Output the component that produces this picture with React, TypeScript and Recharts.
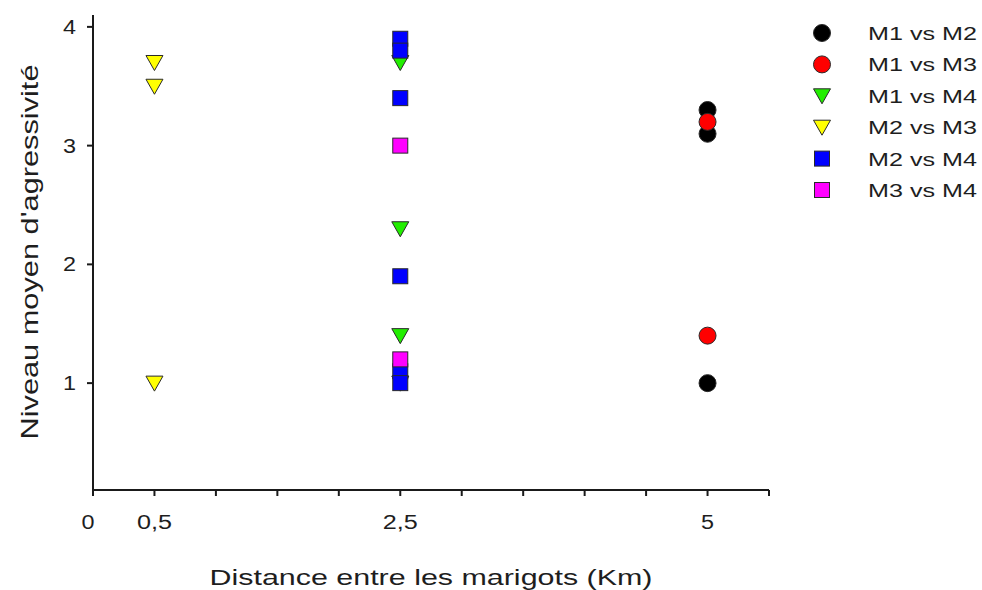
import React from "react";
import { ScatterChart, Scatter, XAxis, YAxis } from "recharts";

// distance (km) / niveau moyen d'agressivité
const m1m2 = [
    { x: 5, y: 3.3 },
    { x: 5, y: 3.1 },
    { x: 5, y: 1.0 },
];
const m1m3 = [
    { x: 5, y: 3.2 },
    { x: 5, y: 1.4 },
];
const m1m4 = [
    { x: 2.5, y: 3.7 },
    { x: 2.5, y: 2.3 },
    { x: 2.5, y: 1.4 },
    { x: 2.5, y: 1.0 },
];
const m2m3 = [
    { x: 0.5, y: 3.7 },
    { x: 0.5, y: 3.5 },
    { x: 0.5, y: 1.0 },
];
const m2m4 = [
    { x: 2.5, y: 3.9 },
    { x: 2.5, y: 3.8 },
    { x: 2.5, y: 3.4 },
    { x: 2.5, y: 1.9 },
    { x: 2.5, y: 1.1 },
    { x: 2.5, y: 1.0 },
];
const m3m4 = [
    { x: 2.5, y: 3.0 },
    { x: 2.5, y: 1.2 },
];

const xTicks = [0, 0.5, 1, 1.5, 2, 2.5, 3, 3.5, 4, 4.5, 5, 5.5];
const xLabelled = [0, 0.5, 2.5, 5];
const yTicks = [1, 2, 3, 4];

const FONT = "'Liberation Sans', Arial, sans-serif";
const EDGE = "#2a2a2a";
const INK = "#1e1e1e";

type Kind = "circle" | "down" | "square";

const Marker = ({ kind, cx, cy, fill }: { kind: Kind; cx: number; cy: number; fill: string }) => {
    if (kind === "circle") {
        return <circle cx={cx} cy={cy} r={8.5} fill={fill} stroke={EDGE} strokeWidth={1} />;
    }
    if (kind === "square") {
        return <rect x={cx - 7.5} y={cy - 7.5} width={15} height={15} fill={fill} stroke={EDGE} strokeWidth={1} />;
    }
    return (
        <polygon
            points={`${cx - 8.5},${cy - 7} ${cx + 8.5},${cy - 7} ${cx},${cy + 8}`}
            fill={fill}
            stroke={EDGE}
            strokeWidth={1}
            strokeLinejoin="round"
        />
    );
};

const series: { name: string; data: { x: number; y: number }[]; kind: Kind; color: string }[] = [
    { name: "M1 vs M2", data: m1m2, kind: "circle", color: "#000000" },
    { name: "M1 vs M3", data: m1m3, kind: "circle", color: "#ff0000" },
    { name: "M1 vs M4", data: m1m4, kind: "down", color: "#22ee00" },
    { name: "M2 vs M3", data: m2m3, kind: "down", color: "#ffff00" },
    { name: "M2 vs M4", data: m2m4, kind: "square", color: "#0000ff" },
    { name: "M3 vs M4", data: m3m4, kind: "square", color: "#ff00ff" },
];

// the reference text is drawn wide, so labels are stretched with textLength
const XTick = (props: any) => {
    const { x, y, payload } = props;
    const v = payload.value as number;
    if (!xLabelled.includes(v)) return null;
    const label = String(v).replace(".", ",");
    const w = label.length === 1 ? 13 : 35;
    return (
        <text
            x={x + (v === 0 ? -5 : 0)}
            y={y + 31}
            textAnchor="middle"
            fontSize={20}
            fill={INK}
            fontFamily={FONT}
            textLength={w}
            lengthAdjust="spacingAndGlyphs"
        >
            {label}
        </text>
    );
};

const YTick = (props: any) => {
    const { x, y, payload } = props;
    return (
        <text
            x={x - 9}
            y={y + 7}
            textAnchor="end"
            fontSize={20}
            fill={INK}
            fontFamily={FONT}
            textLength={13}
            lengthAdjust="spacingAndGlyphs"
        >
            {payload.value}
        </text>
    );
};

const App: React.FC = () => {
    return (
        <div style={{ position: "absolute", left: 0, top: 0, width: 982, height: 590, background: "#fff", fontFamily: FONT }}>
            <ScatterChart width={982} height={590} margin={{ top: 15, right: 213, bottom: 0, left: 0 }}>
                <XAxis
                    type="number"
                    dataKey="x"
                    domain={[0, 5.5]}
                    ticks={xTicks}
                    interval={0}
                    allowDataOverflow
                    height={100}
                    stroke="#1a1a1a"
                    strokeWidth={2}
                    tickSize={6}
                    tick={<XTick />}
                />
                <YAxis
                    type="number"
                    dataKey="y"
                    domain={[0.1, 4.1]}
                    ticks={yTicks}
                    allowDataOverflow
                    width={93}
                    stroke="#1a1a1a"
                    strokeWidth={2}
                    tickSize={6}
                    tick={<YTick />}
                />
                {series.map((s) => (
                    <Scatter
                        key={s.name}
                        name={s.name}
                        data={s.data}
                        isAnimationActive={false}
                        shape={(p: any) => <Marker kind={s.kind} cx={p.cx} cy={p.cy} fill={s.color} />}
                    />
                ))}
            </ScatterChart>
            <svg width={982} height={590} style={{ position: "absolute", left: 0, top: 0, pointerEvents: "none" }}>
                <text
                    x={431}
                    y={585}
                    textAnchor="middle"
                    fontSize={22}
                    fill={INK}
                    fontFamily={FONT}
                    textLength={443}
                    lengthAdjust="spacingAndGlyphs"
                >
                    Distance entre les marigots (Km)
                </text>
                <text
                    transform="translate(38 252) rotate(-90)"
                    textAnchor="middle"
                    fontSize={24}
                    fill={INK}
                    fontFamily={FONT}
                    textLength={375}
                    lengthAdjust="spacingAndGlyphs"
                >
                    Niveau moyen d'agressivité
                </text>
                {series.map((s, i) => (
                    <g key={s.name}>
                        <Marker kind={s.kind} cx={822} cy={33 + i * 31.4} fill={s.color} />
                        <text
                            x={868}
                            y={33 + i * 31.4 + 7}
                            fontSize={19}
                            fill={INK}
                            fontFamily={FONT}
                            textLength={109}
                            lengthAdjust="spacingAndGlyphs"
                        >
                            {s.name}
                        </text>
                    </g>
                ))}
            </svg>
        </div>
    );
};

export default App;
